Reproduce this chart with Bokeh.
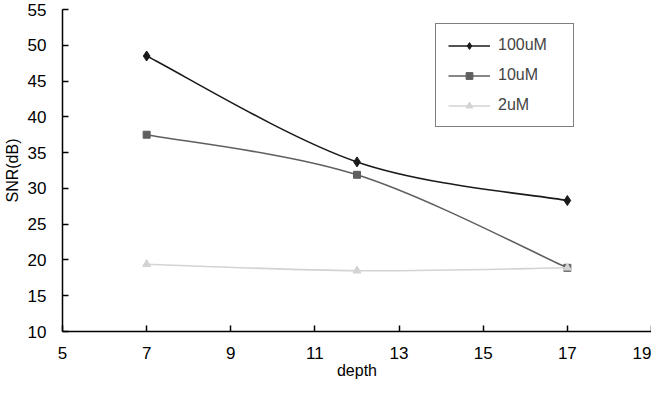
from bokeh.plotting import figure
from bokeh.models import Range1d, FixedTicker, Legend, LegendItem, ColumnDataSource
from bokeh.embed import file_html
from bokeh.resources import INLINE

depth = [7, 12, 17]
snr_100uM = [48.5, 33.7, 28.3]
snr_10uM = [37.5, 31.9, 18.9]
snr_2uM = [19.4, 18.5, 18.9]
series_labels = ["100uM", "10uM", "2uM"]
x_ticks = [5, 7, 9, 11, 13, 15, 17, 19]
y_ticks = [10, 15, 20, 25, 30, 35, 40, 45, 50, 55]

FONT = "Liberation Sans"

p = figure(width=651, height=386, output_backend="svg", toolbar_location=None,
           x_range=Range1d(5, 19), y_range=Range1d(10, 55),
           min_border_left=57, min_border_right=0, min_border_top=9, min_border_bottom=55)
p.outline_line_color = None
p.xgrid.visible = False
p.ygrid.visible = False
p.background_fill_color = "white"
p.border_fill_color = "white"


def smooth_segments(xs, ys):
    n = len(xs)
    seg = dict(x0=[], y0=[], x1=[], y1=[], cx0=[], cy0=[], cx1=[], cy1=[])
    for i in range(n - 1):
        xm, ym = xs[max(i - 1, 0)], ys[max(i - 1, 0)]
        xa, ya = xs[i], ys[i]
        xb, yb = xs[i + 1], ys[i + 1]
        xp, yp = xs[min(i + 2, n - 1)], ys[min(i + 2, n - 1)]
        seg["x0"].append(xa); seg["y0"].append(ya)
        seg["x1"].append(xb); seg["y1"].append(yb)
        seg["cx0"].append(xa + (xb - xm) / 6); seg["cy0"].append(ya + (yb - ym) / 6)
        seg["cx1"].append(xb - (xp - xa) / 6); seg["cy1"].append(yb - (yp - ya) / 6)
    return ColumnDataSource(seg)


styles = [
    (snr_100uM, "#1a1a1a", "diamond", 10),
    (snr_10uM, "#5f5f5f", "square", 7),
    (snr_2uM, "#d3d3d3", "triangle", 8),
]
items = []
for (vals, color, marker, size), label in zip(styles, series_labels):
    src = smooth_segments(depth, vals)
    r1 = p.bezier(x0="x0", y0="y0", x1="x1", y1="y1", cx0="cx0", cy0="cy0",
                  cx1="cx1", cy1="cy1", source=src, line_color=color, line_width=1.6)
    r2 = p.scatter(depth, vals, marker=marker, size=size, fill_color=color,
                   line_color=color)
    items.append(LegendItem(label=label, renderers=[r1, r2]))

legend = Legend(items=items, location=(373, 204), padding=12, spacing=12,
                label_height=17, glyph_height=17, glyph_width=42, label_standoff=8,
                label_width=63,
                border_line_color="black", border_line_width=1.5,
                label_text_font=FONT, label_text_font_size="16px", margin=0,
                background_fill_alpha=1)
p.add_layout(legend, "center")

for ax in (p.xaxis[0], p.yaxis[0]):
    ax.axis_line_color = "black"
    ax.axis_line_width = 1.5
    ax.major_tick_line_color = "black"
    ax.major_tick_line_width = 1.5
    ax.major_tick_in = 6
    ax.major_tick_out = 0
    ax.minor_tick_line_color = None
    ax.major_label_text_font = FONT
    ax.major_label_text_font_size = "17px"
    ax.major_label_text_color = "black"
    ax.axis_label_text_font = FONT
    ax.axis_label_text_font_size = "16px"
    ax.axis_label_text_font_style = "normal"
    ax.axis_label_text_color = "black"

p.xaxis.ticker = FixedTicker(ticks=x_ticks)
p.yaxis.ticker = FixedTicker(ticks=y_ticks)
p.xaxis.axis_label = "depth"
p.yaxis.axis_label = "SNR(dB)"
p.xaxis.major_label_standoff = 15
p.yaxis.major_label_standoff = 16
p.xaxis.axis_label_standoff = 0
p.yaxis.axis_label_standoff = 4

open("out.html", "w").write(file_html(p, INLINE))
